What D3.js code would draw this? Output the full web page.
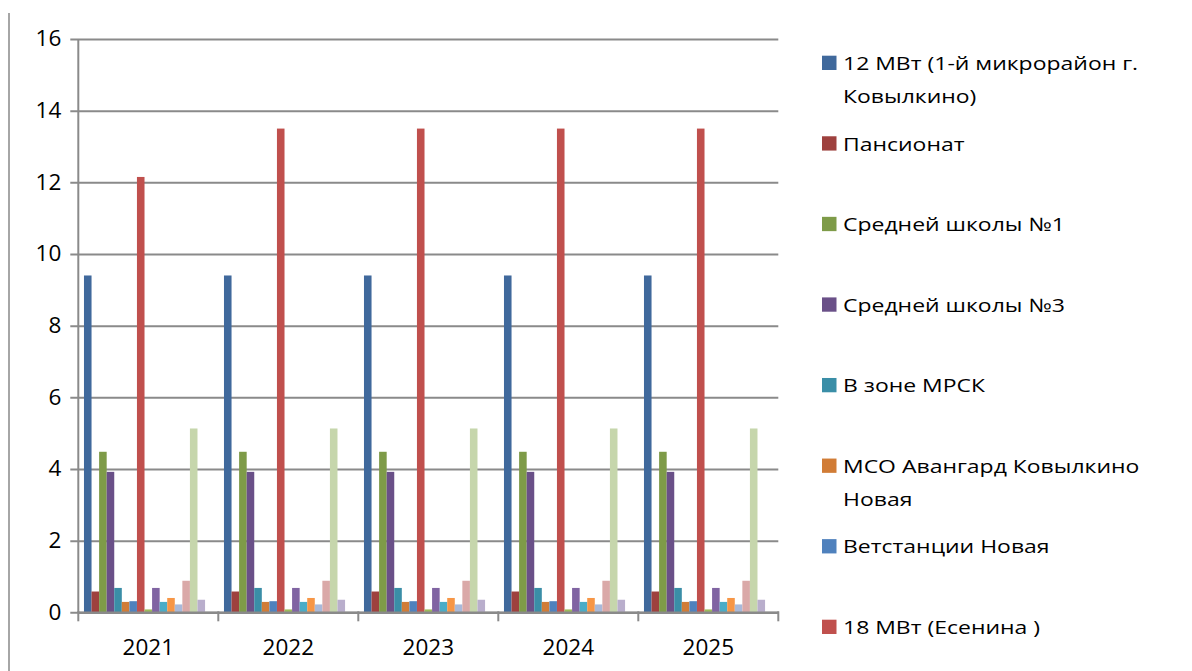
<!DOCTYPE html>
<html>
<head>
<meta charset="utf-8">
<script src="https://cdn.jsdelivr.net/npm/d3@7"></script>
<style>
  html, body { margin: 0; padding: 0; background: #ffffff; }
  svg { display: block; }
  text { font-family: "Open Sans", sans-serif; fill: #000; }
</style>
</head>
<body>
<svg id="chart" width="1192" height="671"></svg>
<script>
// ---- data ----
const years = ["2021", "2022", "2023", "2024", "2025"];
const seriesNames = [
  ["12 МВт (1-й микрорайон г.", "Ковылкино)"],
  ["Пансионат"],
  ["Средней школы №1"],
  ["Средней школы №3"],
  ["В зоне МРСК"],
  ["МСО Авангард Ковылкино", "Новая"],
  ["Ветстанции Новая"],
  ["18 МВт (Есенина )"],
  ["Ряд 9"], ["Ряд 10"], ["Ряд 11"], ["Ряд 12"], ["Ряд 13"],
  ["Ряд 14"], ["Ряд 15"], ["Ряд 16"], ["Ряд 17"]
];
const values2021 = [9.4, 0.58, 4.48, 3.92, 0.68, 0.29, 0.31, 12.15, 0.08, 0.68, 0.29, 0.4, 0.22, 0.88, 5.13, 0.35, 0];
const values2022 = [9.4, 0.58, 4.48, 3.92, 0.68, 0.29, 0.31, 13.5, 0.08, 0.68, 0.29, 0.4, 0.22, 0.88, 5.13, 0.35, 0];
const values2023 = [9.4, 0.58, 4.48, 3.92, 0.68, 0.29, 0.31, 13.5, 0.08, 0.68, 0.29, 0.4, 0.22, 0.88, 5.13, 0.35, 0];
const values2024 = [9.4, 0.58, 4.48, 3.92, 0.68, 0.29, 0.31, 13.5, 0.08, 0.68, 0.29, 0.4, 0.22, 0.88, 5.13, 0.35, 0];
const values2025 = [9.4, 0.58, 4.48, 3.92, 0.68, 0.29, 0.31, 13.5, 0.08, 0.68, 0.29, 0.4, 0.22, 0.88, 5.13, 0.35, 0];
const yTicks = [0, 2, 4, 6, 8, 10, 12, 14, 16];
const colors = ["#40699C", "#9E413E", "#7E9B48", "#6A5088", "#3A8EA7", "#D17C36",
                "#4F81BD", "#C0504D", "#9BBB59", "#8064A2", "#4BACC6", "#F79646",
                "#A9B9D9", "#DAA9A8", "#C6D6AC", "#B9AECC", "#A9D4E1"];

const valuesByYear = [values2021, values2022, values2023, values2024, values2025];

// ---- layout ----
const W = 1192, H = 671;
const svg = d3.select("#chart");
const plot = { left: 78.3, right: 778.3, top: 39, bottom: 612.3 };
const gridColor = "#8a8a8a";

// outer frame line (left edge)
svg.append("line")
  .attr("x1", 9).attr("x2", 9).attr("y1", 13).attr("y2", H)
  .attr("stroke", "#a6a6a6").attr("stroke-width", 2);

const x = d3.scaleBand().domain(years).range([plot.left, plot.right]).paddingInner(0).paddingOuter(0);
const xs = d3.scaleBand().domain(d3.range(seriesNames.length))
  .range([0, x.bandwidth()]).paddingInner(0).paddingOuter(0.75);
const y = d3.scaleLinear().domain([0, 16]).range([plot.bottom, plot.top]);

// gridlines + y axis
const yAxis = d3.axisLeft(y).tickValues(yTicks).tickSize(-(plot.right - plot.left)).tickSizeOuter(0).tickPadding(17);
const gy = svg.append("g").attr("transform", `translate(${plot.left},0)`).call(yAxis);
gy.select(".domain").remove();
gy.selectAll(".tick line").attr("stroke", gridColor).attr("stroke-width", 2).attr("x1", -8);
gy.selectAll(".tick text")
  .attr("font-family", "Open Sans, sans-serif")
  .attr("font-size", 22.5)
  .attr("fill", "#000")
  .attr("dy", "0.3em");

// bars
const groups = svg.append("g").selectAll("g.year")
  .data(years)
  .join("g")
  .attr("class", "year")
  .attr("transform", d => `translate(${x(d)},0)`);

groups.selectAll("rect")
  .data((d, i) => valuesByYear[i].map((v, s) => ({ s, v })))
  .join("rect")
  .attr("x", d => xs(d.s))
  .attr("width", xs.bandwidth())
  .attr("y", d => y(d.v))
  .attr("height", d => y(0) - y(d.v))
  .attr("fill", d => colors[d.s]);

// vertical y-axis line
svg.append("line")
  .attr("x1", plot.left).attr("x2", plot.left)
  .attr("y1", plot.top).attr("y2", plot.bottom)
  .attr("stroke", gridColor).attr("stroke-width", 2);

// x axis
const xAxis = d3.axisBottom(x).tickSize(0).tickPadding(0);
const gx = svg.append("g").attr("transform", `translate(0,${plot.bottom})`).call(xAxis);
gx.select(".domain").attr("stroke", gridColor).attr("stroke-width", 2.5);
gx.selectAll(".tick text")
  .attr("font-family", "Open Sans, sans-serif")
  .attr("font-size", 22.5)
  .attr("fill", "#000")
  .attr("y", 0)
  .attr("dy", 0)
  .attr("transform", "translate(0,42.7)");
// category boundary ticks
const bounds = years.map(d => x(d)).concat([plot.right]);
gx.selectAll("line.bound")
  .data(bounds)
  .join("line")
  .attr("class", "bound")
  .attr("x1", d => d).attr("x2", d => d)
  .attr("y1", -1).attr("y2", 9)
  .attr("stroke", gridColor).attr("stroke-width", 2);

// legend (entries beyond the visible area are cut off in the original, so only those that fit are drawn)
const legendTop = 70, legendStep = 80.57;
const legendItems = seriesNames.map((lines, i) => ({ lines, i }))
  .filter(d => legendTop + d.i * legendStep + (d.lines.length - 1) * 32.7 + 6 < H);
const legend = svg.append("g");
const entry = legend.selectAll("g.entry")
  .data(legendItems)
  .join("g")
  .attr("class", "entry")
  .attr("transform", d => `translate(822,${legendTop + d.i * legendStep})`);

entry.append("rect")
  .attr("x", 0).attr("y", -14.3)
  .attr("width", 14.5).attr("height", 14.3)
  .attr("fill", d => colors[d.i]);

entry.each(function (d) {
  const g = d3.select(this);
  d.lines.forEach((t, k) => {
    g.append("text")
      .attr("transform", `translate(21,${k * 32.7}) scale(1.235,1)`)
      .attr("font-size", 18.6)
      .text(t);
  });
});
</script>
</body>
</html>
